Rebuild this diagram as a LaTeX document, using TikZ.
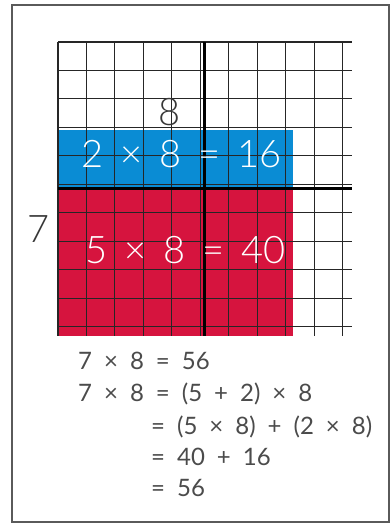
\documentclass[tikz,border=0pt]{standalone}
\usepackage{fontspec}
\setmainfont{Lato Light}
\newfontfamily\eqfamily{Lato}
\definecolor{gridblue}{RGB}{10,140,212}
\definecolor{gridred}{RGB}{214,20,62}
\definecolor{ink}{RGB}{55,55,55}
\definecolor{eqink}{RGB}{75,75,75}
\definecolor{framegray}{RGB}{90,90,90}
\newcommand\bigtxtfont{\fontsize{38}{38}\selectfont\spaceskip=0.45em plus 0pt minus 0pt\relax}
\newcommand\eqtxtfont{\eqfamily\fontsize{24}{24}\selectfont\spaceskip=0.5em plus 0pt minus 0pt\relax}
\tikzset{
  frame/.style={draw=framegray, line width=2pt},
  thin grid/.style={draw=black!85, line width=1.1pt},
  thick rule/.style={draw=black, line width=2.8pt},
  big/.style={inner sep=0pt, anchor=base west, font=\bigtxtfont},
  eq/.style={inner sep=0pt, anchor=base west, text=eqink, font=\eqtxtfont},
}
\begin{document}
\begin{tikzpicture}[x=1pt, y=-1pt]
\useasboundingbox (0,0) rectangle (391,523);
\draw[frame] (12,5) rectangle (389,522);
\begin{scope}[shift={(58,42)}, x=29.35pt, y=-29.35pt]
  \fill[gridblue] (0,3) rectangle (8,5);
  \fill[gridred] (0,5) rectangle (8,10);
  \draw[thin grid] (0,0) grid (10,10);
  \draw[thick rule] (5,0) -- (5,10);
  \draw[thick rule] (0,5) -- (10,5);
\end{scope}
\node[big, text=ink] (eight) at (158,125) {8};
\node[big, text=ink] (seven) at (27,242) {7};
\node[big, text=white] (blue) at (81,167) {2 × 8 = 16};
\node[big, text=white] (red) at (85,263) {5 × 8 = 40};
\node[eq] (l1) at (78,369) {7 × 8 = 56};
\node[eq] (l2) at (78,401) {7 × 8 = (5 + 2) × 8};
\node[eq] (l3) at (151,434) {= (5 × 8) + (2 × 8)};
\node[eq] (l4) at (151,465) {= 40 + 16};
\node[eq] (l5) at (151,496) {= 56};
\end{tikzpicture}
\end{document}
